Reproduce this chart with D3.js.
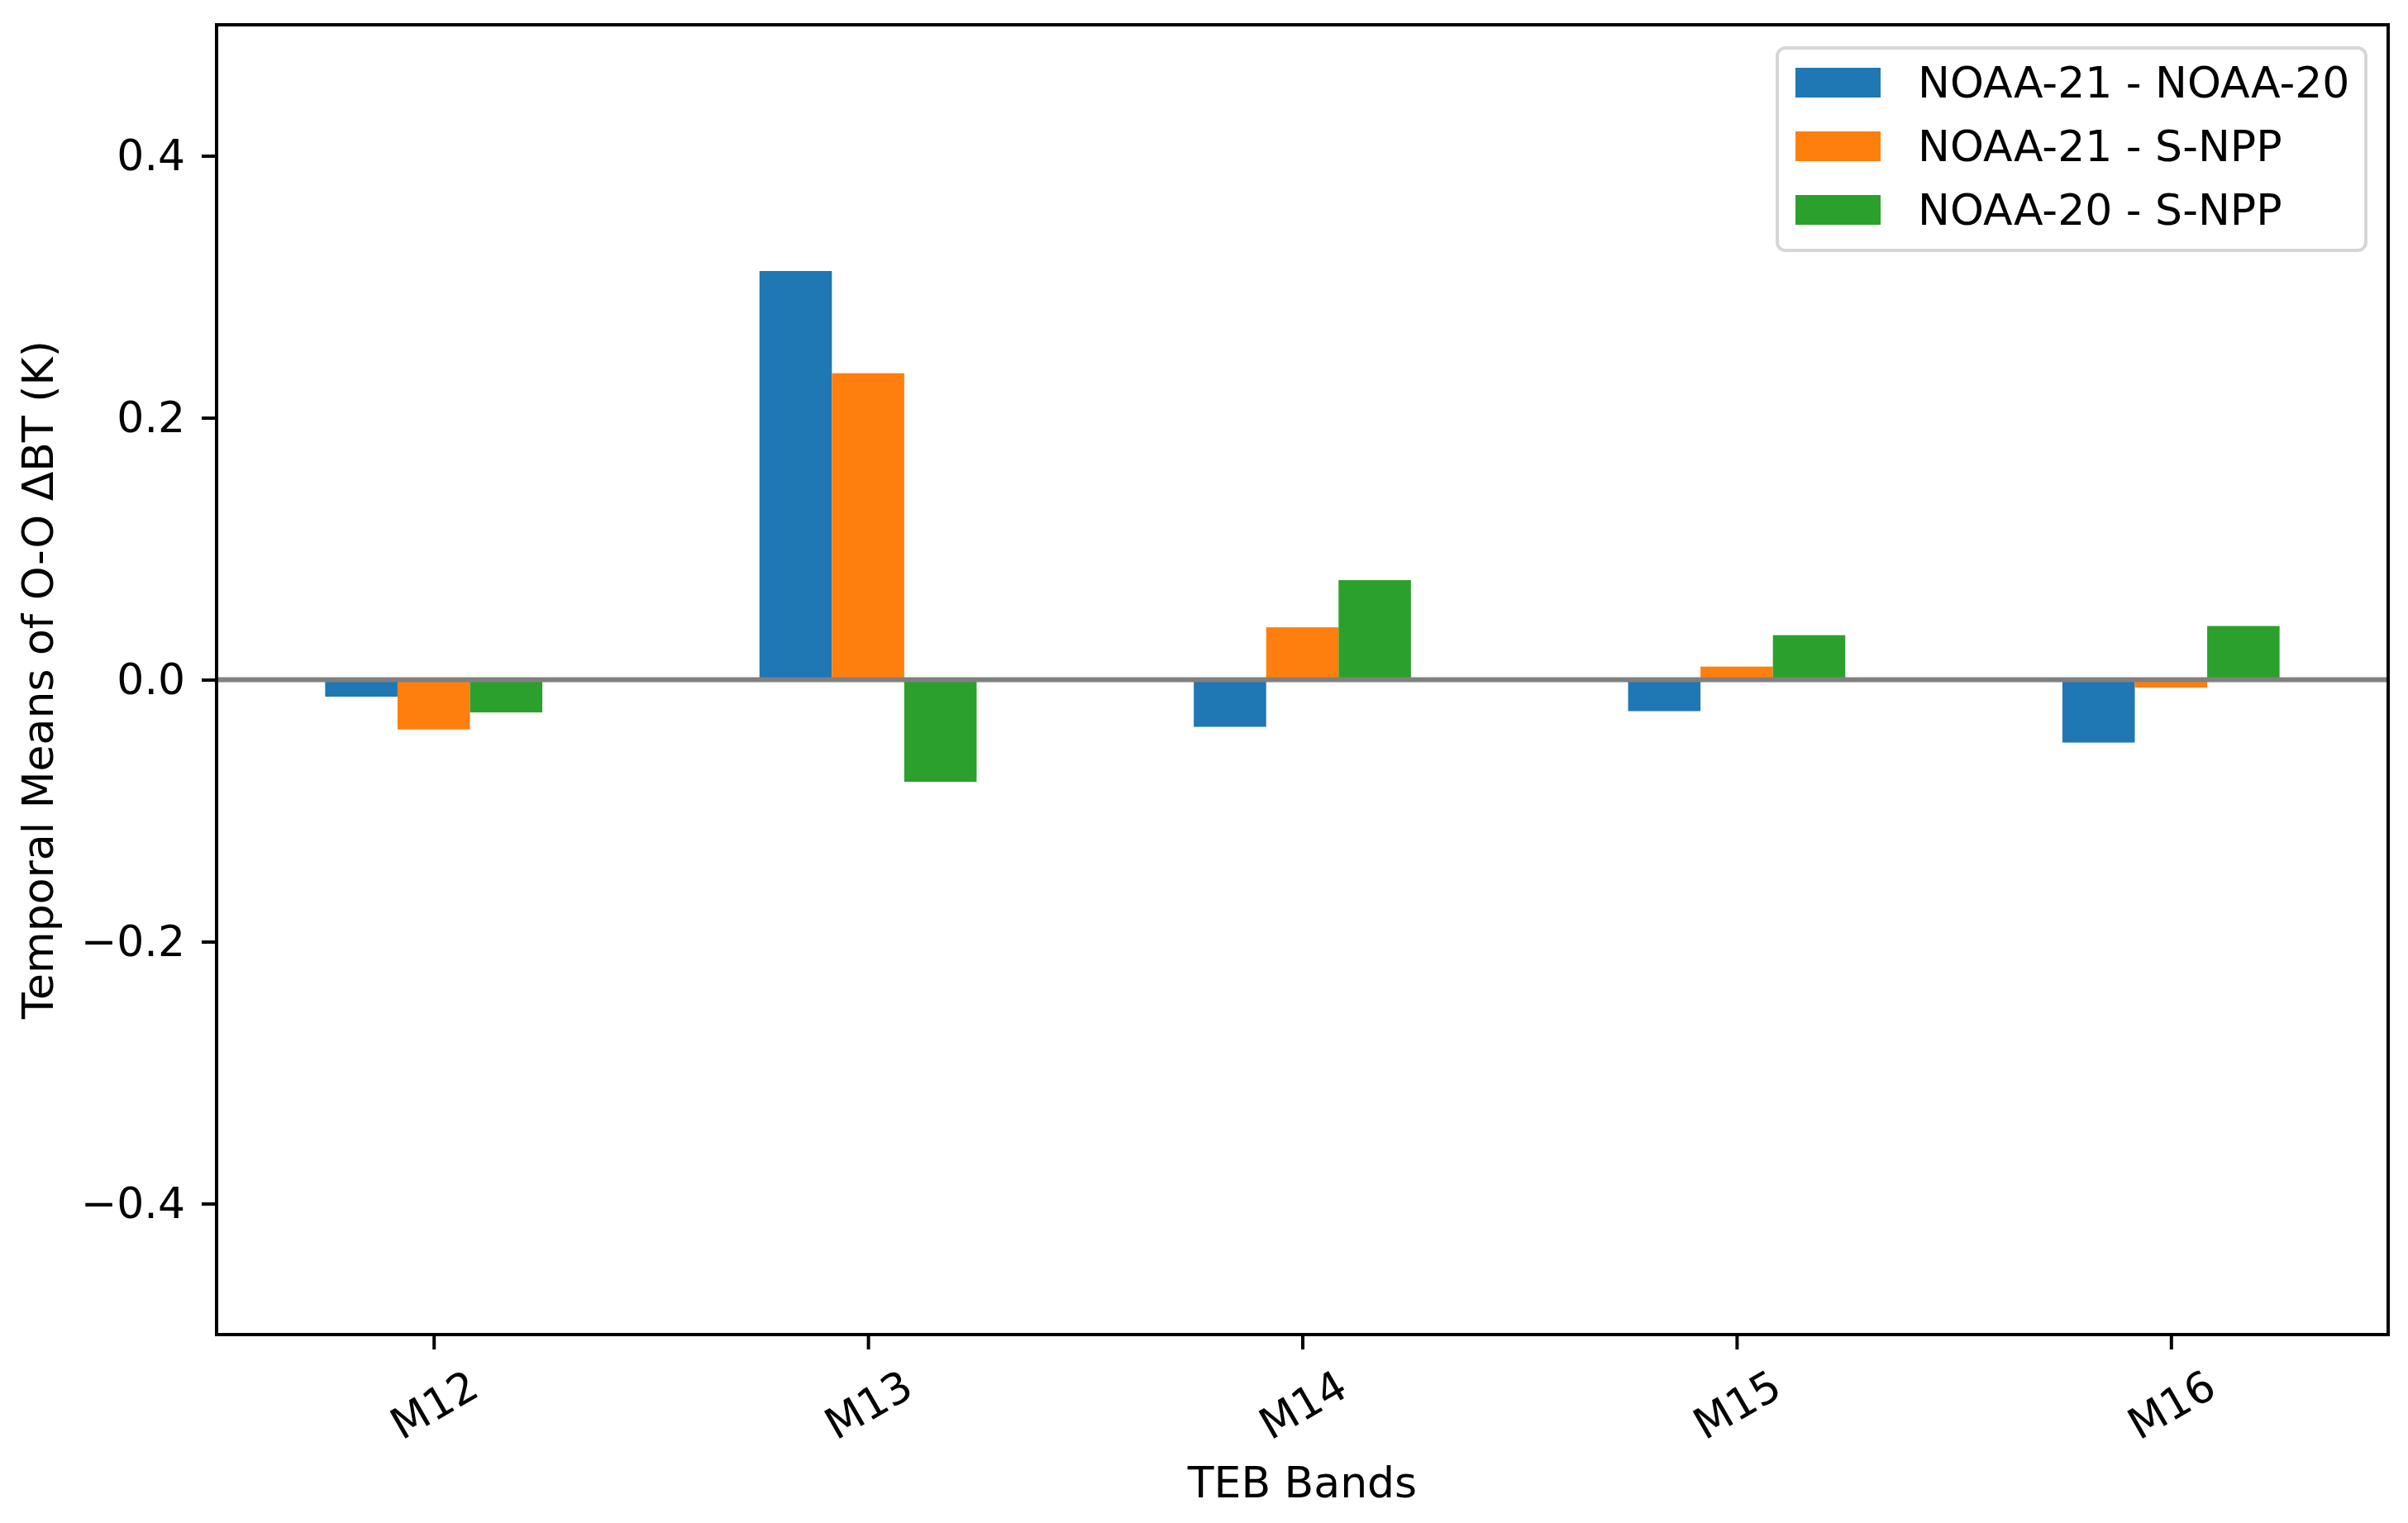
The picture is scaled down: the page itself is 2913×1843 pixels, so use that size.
<!DOCTYPE html>
<html>
<head>
<meta charset="utf-8">
<script src="https://cdn.jsdelivr.net/npm/d3@7"></script>
<style>
  html, body { margin: 0; padding: 0; background: #fff; }
  svg { display: block; }
  text { font-family: "DejaVu Sans", sans-serif; fill: #000; }
</style>
</head>
<body>
<svg id="chart" width="2913" height="1843"></svg>
<script>
// ---- data ----
const categories = ["M12", "M13", "M14", "M15", "M16"];
const seriesNames = ["NOAA-21 - NOAA-20", "NOAA-21 - S-NPP", "NOAA-20 - S-NPP"];
const noaa21MinusNoaa20 = [-0.013, 0.312, -0.036, -0.024, -0.048];
const noaa21MinusSnpp   = [-0.038, 0.234, 0.040, 0.010, -0.006];
const noaa20MinusSnpp   = [-0.025, -0.078, 0.076, 0.034, 0.041];
const yTicks = [-0.4, -0.2, 0.0, 0.2, 0.4];
const colors = ["#1f77b4", "#ff7f0e", "#2ca02c"];

const seriesValues = [noaa21MinusNoaa20, noaa21MinusSnpp, noaa20MinusSnpp];

// ---- layout ----
const W = 2913, H = 1843;
const L = 262, R = 2889, T = 30, B = 1615;
const FS = 52;

const svg = d3.select("#chart");

const x = d3.scaleLinear().domain([-0.5, categories.length - 0.5]).range([L, R]);
const y = d3.scaleLinear().domain([-0.5, 0.5]).range([B, T]);
const barW = 1 / 6;
const offsets = [-1/6, 0, 1/6];

// bars
const g = svg.append("g");
seriesValues.forEach((vals, si) => {
  g.selectAll(null)
    .data(vals.map((v, i) => ({v, i})))
    .enter().append("rect")
    .attr("x", d => x(d.i + offsets[si] - barW / 2))
    .attr("width", d => x(d.i + offsets[si] + barW / 2) - x(d.i + offsets[si] - barW / 2))
    .attr("y", d => y(Math.max(0, d.v)))
    .attr("height", d => Math.abs(y(d.v) - y(0)))
    .attr("fill", colors[si]);
});

// zero line
svg.append("line")
  .attr("x1", L).attr("x2", R)
  .attr("y1", y(0)).attr("y2", y(0))
  .attr("stroke", "#808080").attr("stroke-width", 6);

// y axis
const yAxis = d3.axisLeft(y).tickValues(yTicks)
  .tickFormat(d => (d < 0 ? "\u2212" : "") + Math.abs(d).toFixed(1))
  .tickSize(18).tickPadding(20);
const yg = svg.append("g").attr("transform", `translate(${L},0)`).call(yAxis);
yg.select(".domain").remove();
yg.selectAll(".tick line").attr("stroke", "#000").attr("stroke-width", 4);
yg.selectAll(".tick text").attr("font-size", FS).attr("font-family", "DejaVu Sans").attr("fill", "#000");

// x axis
const xAxis = d3.axisBottom(x).tickValues(d3.range(categories.length))
  .tickFormat(i => categories[i]).tickSize(18).tickPadding(0);
const xg = svg.append("g").attr("transform", `translate(0,${B})`).call(xAxis);
xg.select(".domain").remove();
xg.selectAll(".tick line").attr("stroke", "#000").attr("stroke-width", 4);
xg.selectAll(".tick text")
  .attr("font-size", FS).attr("font-family", "DejaVu Sans").attr("fill", "#000")
  .attr("y", 0).attr("dy", null)
  .attr("text-anchor", "middle")
  .attr("dominant-baseline", "central")
  .attr("transform", "translate(0,85) rotate(-30)");

// frame
svg.append("rect")
  .attr("x", L).attr("y", T).attr("width", R - L).attr("height", B - T)
  .attr("fill", "none").attr("stroke", "#000").attr("stroke-width", 4);

// axis labels
svg.append("text")
  .attr("x", (L + R) / 2).attr("y", 1812)
  .attr("text-anchor", "middle").attr("font-size", FS)
  .text("TEB Bands");

svg.append("text")
  .attr("transform", `translate(64,${(T + B) / 2}) rotate(-90)`)
  .attr("text-anchor", "middle").attr("font-size", FS)
  .text("Temporal Means of O-O \u0394BT (K)");

// legend
const lg = svg.append("g");
lg.append("rect")
  .attr("x", 2150).attr("y", 58).attr("width", 712).attr("height", 245)
  .attr("rx", 10).attr("ry", 10)
  .attr("fill", "#fff").attr("fill-opacity", 0.8)
  .attr("stroke", "#d6d6d6").attr("stroke-width", 4);
seriesNames.forEach((name, i) => {
  const cy = 100 + i * 77;
  lg.append("rect")
    .attr("x", 2172).attr("y", cy - 18).attr("width", 103).attr("height", 36)
    .attr("fill", colors[i]);
  lg.append("text")
    .attr("x", 2320).attr("y", cy)
    .attr("dominant-baseline", "central")
    .attr("font-size", FS)
    .text(name);
});
</script>
</body>
</html>
